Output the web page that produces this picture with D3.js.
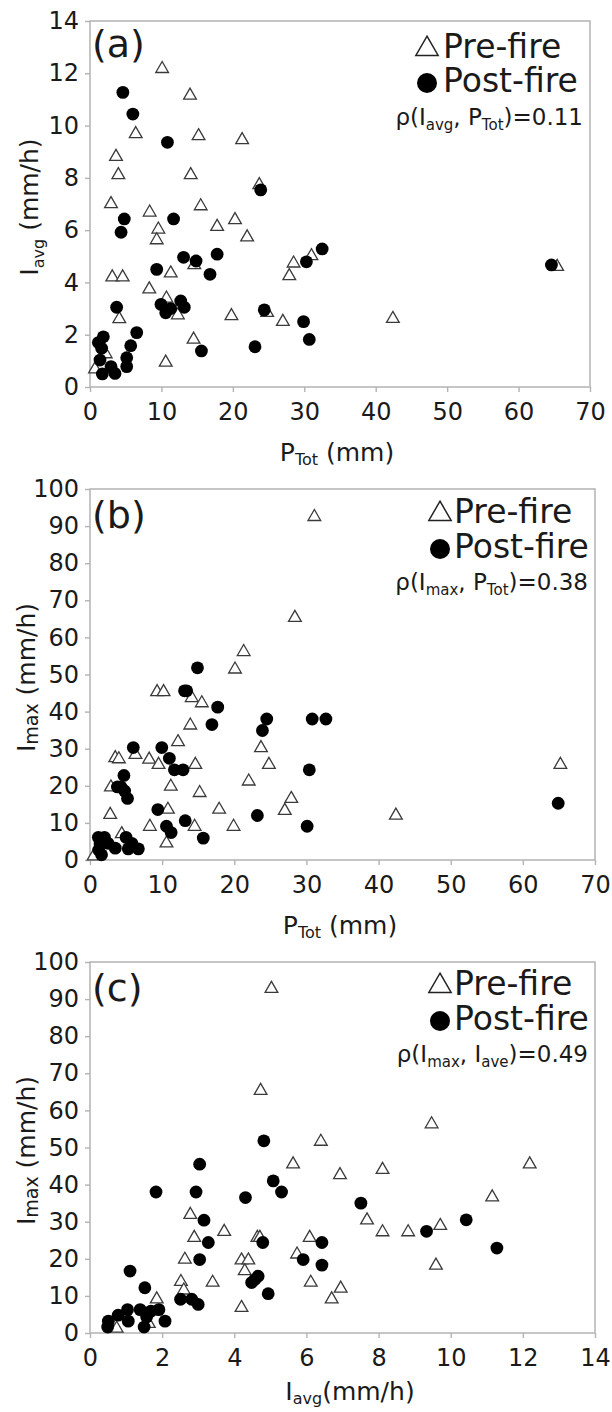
<!DOCTYPE html>
<html><head><meta charset="utf-8">
<script src="https://cdn.jsdelivr.net/npm/d3@7"></script>
<style>
body{margin:0;background:#fff}
svg{display:block}
text{font-family:"DejaVu Sans",sans-serif;fill:#1a1a1a}
</style>
</head><body>
<svg id="chart" width="612" height="1412"></svg>
<script>
// ---------- tick values ----------
const xTicksPTot = [0,10,20,30,40,50,60,70];
const yTicksIavg = [0,2,4,6,8,10,12,14];
const yTicksImax = [0,10,20,30,40,50,60,70,80,90,100];
const xTicksIavg = [0,2,4,6,8,10,12,14];

// ---------- panel (a): P_Tot vs I_avg ----------
const preA = [[10.1,12.17],[14.0,11.15],[6.4,9.68],[15.2,9.6],[21.3,9.45],[3.64,8.81],[3.97,8.11],[14.1,8.11],[23.7,7.73],[2.94,7.0],[8.35,6.68],[15.5,6.92],[9.57,6.03],[9.34,5.62],[17.8,6.13],[20.3,6.39],[22.0,5.73],[31.0,5.01],[28.5,4.73],[14.6,4.67],[3.12,4.2],[4.57,4.2],[11.3,4.35],[27.9,4.25],[8.3,3.74],[10.7,3.39],[12.3,2.75],[4.1,2.6],[19.8,2.72],[24.8,2.84],[27.0,2.5],[42.4,2.61],[14.5,1.82],[10.6,0.94],[0.7,0.68],[2.2,1.26],[65.4,4.6]];
const postA = [[4.6,11.27],[6.0,10.44],[10.84,9.36],[23.9,7.54],[4.8,6.43],[11.7,6.43],[4.35,5.92],[32.5,5.28],[13.1,4.96],[14.85,4.82],[17.8,5.08],[30.3,4.79],[9.34,4.5],[16.8,4.31],[64.6,4.67],[12.7,3.29],[13.2,3.05],[9.94,3.16],[11.3,3.0],[10.6,2.84],[3.73,3.05],[24.4,2.95],[29.9,2.5],[30.7,1.82],[23.1,1.54],[15.6,1.38],[6.54,2.08],[5.7,1.58],[1.87,1.92],[1.17,1.70],[1.63,1.48],[1.4,1.03],[5.14,1.12],[5.14,0.78],[2.94,0.78],[3.5,0.52],[1.73,0.5]];

// ---------- panel (b): P_Tot vs I_max ----------
const preB = [[31.1,92.5],[28.4,65.3],[21.3,56.1],[20.1,51.4],[9.3,45.3],[10.2,45.3],[14.1,43.7],[15.5,42.3],[13.9,36.3],[12.2,31.8],[23.7,30.2],[3.5,27.5],[4.0,27.2],[6.3,28.4],[8.2,27.1],[9.5,25.7],[14.6,25.7],[24.8,25.7],[65.2,25.7],[11.2,19.8],[2.9,19.6],[22.0,21.2],[15.2,18.1],[27.9,16.5],[2.8,12.2],[10.8,13.6],[17.9,13.6],[27.0,13.3],[42.4,12.0],[8.3,9.0],[14.5,9.0],[19.9,9.0],[10.6,4.5],[4.4,7.0],[0.5,1.0]];
const postB = [[14.9,51.8],[13.1,45.6],[13.4,45.6],[17.7,41.2],[16.9,36.5],[24.5,38.0],[23.9,34.9],[30.8,38.0],[32.7,38.0],[6.0,30.3],[9.95,30.3],[11.0,27.4],[11.7,24.3],[12.9,24.3],[30.4,24.3],[4.7,22.8],[3.8,19.7],[4.3,19.7],[4.8,18.6],[5.2,16.6],[9.4,13.6],[13.2,10.6],[23.2,12.0],[30.1,9.1],[10.6,9.1],[11.25,7.4],[15.7,5.9],[64.9,15.3],[1.16,6.1],[2.0,6.1],[1.4,4.3],[2.5,4.5],[3.5,3.2],[1.6,1.4],[1.2,2.7],[5.0,6.1],[5.3,3.0],[5.8,4.5],[6.7,3.0]];

// ---------- panel (c): I_avg vs I_max ----------
const preC = [[5.03,92.8],[4.73,65.3],[9.47,56.3],[6.4,51.6],[5.63,45.5],[12.19,45.5],[8.11,44.0],[6.93,42.6],[11.15,36.6],[2.78,31.9],[7.68,30.4],[9.71,28.9],[3.72,27.3],[8.11,27.2],[8.82,27.2],[2.89,25.7],[4.64,25.7],[4.71,25.7],[6.09,25.7],[5.74,21.2],[2.63,19.8],[4.2,19.6],[4.39,19.6],[9.59,18.2],[4.29,16.7],[2.52,13.8],[3.4,13.6],[6.12,13.6],[2.6,11.5],[6.95,12.0],[6.7,9.1],[1.85,9.1],[4.2,6.8],[1.63,2.5],[0.74,1.2]];
const postC = [[4.82,51.8],[3.04,45.5],[1.83,38.0],[2.94,38.0],[4.31,36.5],[5.08,41.0],[5.31,38.0],[3.16,30.4],[3.28,24.4],[4.79,24.4],[6.43,24.4],[3.04,19.8],[5.91,19.8],[6.43,18.3],[1.11,16.7],[1.52,12.2],[4.66,15.3],[4.57,14.4],[4.48,13.6],[4.94,10.6],[2.51,9.1],[2.82,9.1],[3.0,7.7],[1.04,6.3],[1.39,6.3],[1.69,5.9],[1.91,6.3],[0.78,4.8],[1.06,3.2],[0.51,3.2],[0.49,1.6],[2.08,3.2],[1.5,1.6],[1.57,4.3],[7.51,35.0],[9.33,27.4],[10.43,30.5],[11.28,22.9]];

const legendLabels = ["Pre-fire","Post-fire"];

const svg = d3.select("#chart");

function rich(sel, parts, size, subSize, shift){
  let pending = 0;
  parts.forEach(p=>{
    const t = sel.append("tspan").text(p.t);
    if(p.sub){
      t.attr("font-size", subSize).attr("dy", shift);
      pending = shift;
    } else {
      t.attr("font-size", size);
      if(pending){ t.attr("dy", -pending); pending = 0; }
    }
  });
}

function panel(cfg){
  const g = svg.append("g");
  const x = d3.scaleLinear().domain(cfg.xDomain).range([cfg.left, cfg.right]);
  const y = d3.scaleLinear().domain(cfg.yDomain).range([cfg.bottom, cfg.top]);

  const gray = "#b3b3b3";
  const ax = g.append("g").attr("transform", `translate(0,${cfg.bottom})`)
    .call(d3.axisBottom(x).tickValues(cfg.xTicks).tickSize(5).tickPadding(11));
  const ay = g.append("g").attr("transform", `translate(${cfg.left},0)`)
    .call(d3.axisLeft(y).tickValues(cfg.yTicks).tickSize(5).tickPadding(6));
  [ax, ay].forEach(a=>{
    a.select(".domain").remove();
    a.selectAll(".tick line").attr("stroke", gray).attr("stroke-width", 1.4);
    a.selectAll(".tick text").attr("font-size", 24).attr("font-family", '"DejaVu Sans",sans-serif').attr("fill", "#1a1a1a");
  });
  g.append("rect").attr("x", cfg.left).attr("y", cfg.top)
    .attr("width", cfg.right-cfg.left).attr("height", cfg.bottom-cfg.top)
    .attr("fill","none").attr("stroke", gray).attr("stroke-width", 1.5);

  const tri = d3.symbol().type(d3.symbolTriangle).size(70);
  g.append("g").selectAll("path").data(cfg.pre).join("path")
    .attr("d", tri)
    .attr("transform", d=>`translate(${x(d[0])},${y(d[1])})`)
    .attr("fill","#fff").attr("stroke","#3a3a3a").attr("stroke-width",1.3);
  g.append("g").selectAll("circle").data(cfg.post).join("circle")
    .attr("cx", d=>x(d[0])).attr("cy", d=>y(d[1])).attr("r", 6.4)
    .attr("fill","#000");

  g.append("text").attr("x", cfg.left+2).attr("y", cfg.top+cfg.tagDy)
    .attr("font-size", 38).text(cfg.tag);

  const L = cfg.leg; // [markerOffset, textOffset, y1, y2, y3]
  const lx = cfg.right - L[0];
  g.append("path").attr("d", d3.symbol().type(d3.symbolTriangle).size(215))
    .attr("transform", `translate(${lx},${cfg.top+L[2]-9})`)
    .attr("fill","#fff").attr("stroke","#222").attr("stroke-width",1.5);
  g.append("circle").attr("cx", lx).attr("cy", cfg.top+L[3]-9).attr("r", 10).attr("fill","#000");
  g.append("text").attr("x", cfg.right-L[1]).attr("y", cfg.top+L[2]).attr("font-size", 33).text(legendLabels[0]);
  g.append("text").attr("x", cfg.right-L[1]).attr("y", cfg.top+L[3]).attr("font-size", 33).text(legendLabels[1]);
  const rho = g.append("text").attr("x", cfg.right-7).attr("y", cfg.top+L[4]).attr("text-anchor","end");
  rich(rho, cfg.rho, 23, 15, 5);

  const xl = g.append("text").attr("x", cfg.xLabelX).attr("y", cfg.bottom+cfg.xLabelDy).attr("text-anchor","middle");
  rich(xl, cfg.xLabel, 25, 16, 4);
  const yl = g.append("text").attr("transform", `translate(${cfg.yLabelX},${(cfg.top+cfg.bottom)/2+3}) rotate(-90)`).attr("text-anchor","middle");
  rich(yl, cfg.yLabel, 25, cfg.ySub, cfg.yShift);
}

panel({tag:"(a)", tagDy:36, left:90, right:590, top:21, bottom:387,
  xDomain:[0,70], yDomain:[0,14], xTicks:xTicksPTot, yTicks:yTicksIavg,
  pre:preA, post:postA, leg:[163,147,37,71,104],
  rho:[{t:"ρ(I"},{t:"avg",sub:true},{t:", P"},{t:"Tot",sub:true},{t:")=0.11"}],
  xLabel:[{t:"P"},{t:"Tot",sub:true},{t:" (mm)"}], xLabelX:337, xLabelDy:74,
  yLabel:[{t:"I"},{t:"avg",sub:true},{t:" (mm/h)"}], yLabelX:38, ySub:16, yShift:6});

panel({tag:"(b)", tagDy:39, left:90, right:595, top:489, bottom:860,
  xDomain:[0,70], yDomain:[0,100], xTicks:xTicksPTot, yTicks:yTicksImax,
  pre:preB, post:postB, leg:[155,141,34,69,101],
  rho:[{t:"ρ(I"},{t:"max",sub:true},{t:", P"},{t:"Tot",sub:true},{t:")=0.38"}],
  xLabel:[{t:"P"},{t:"Tot",sub:true},{t:" (mm)"}], xLabelX:340, xLabelDy:74,
  yLabel:[{t:"I"},{t:"max",sub:true},{t:" (mm/h)"}], yLabelX:35, ySub:19, yShift:3});

panel({tag:"(c)", tagDy:39, left:90, right:595, top:962, bottom:1333,
  xDomain:[0,14], yDomain:[0,100], xTicks:xTicksIavg, yTicks:yTicksImax,
  pre:preC, post:postC, leg:[155,141,33,68,100],
  rho:[{t:"ρ(I"},{t:"max",sub:true},{t:", I"},{t:"ave",sub:true},{t:")=0.49"}],
  xLabel:[{t:"I"},{t:"avg",sub:true},{t:"(mm/h)"}], xLabelX:350, xLabelDy:67,
  yLabel:[{t:"I"},{t:"max",sub:true},{t:" (mm/h)"}], yLabelX:35, ySub:19, yShift:3});
</script>
</body></html>
